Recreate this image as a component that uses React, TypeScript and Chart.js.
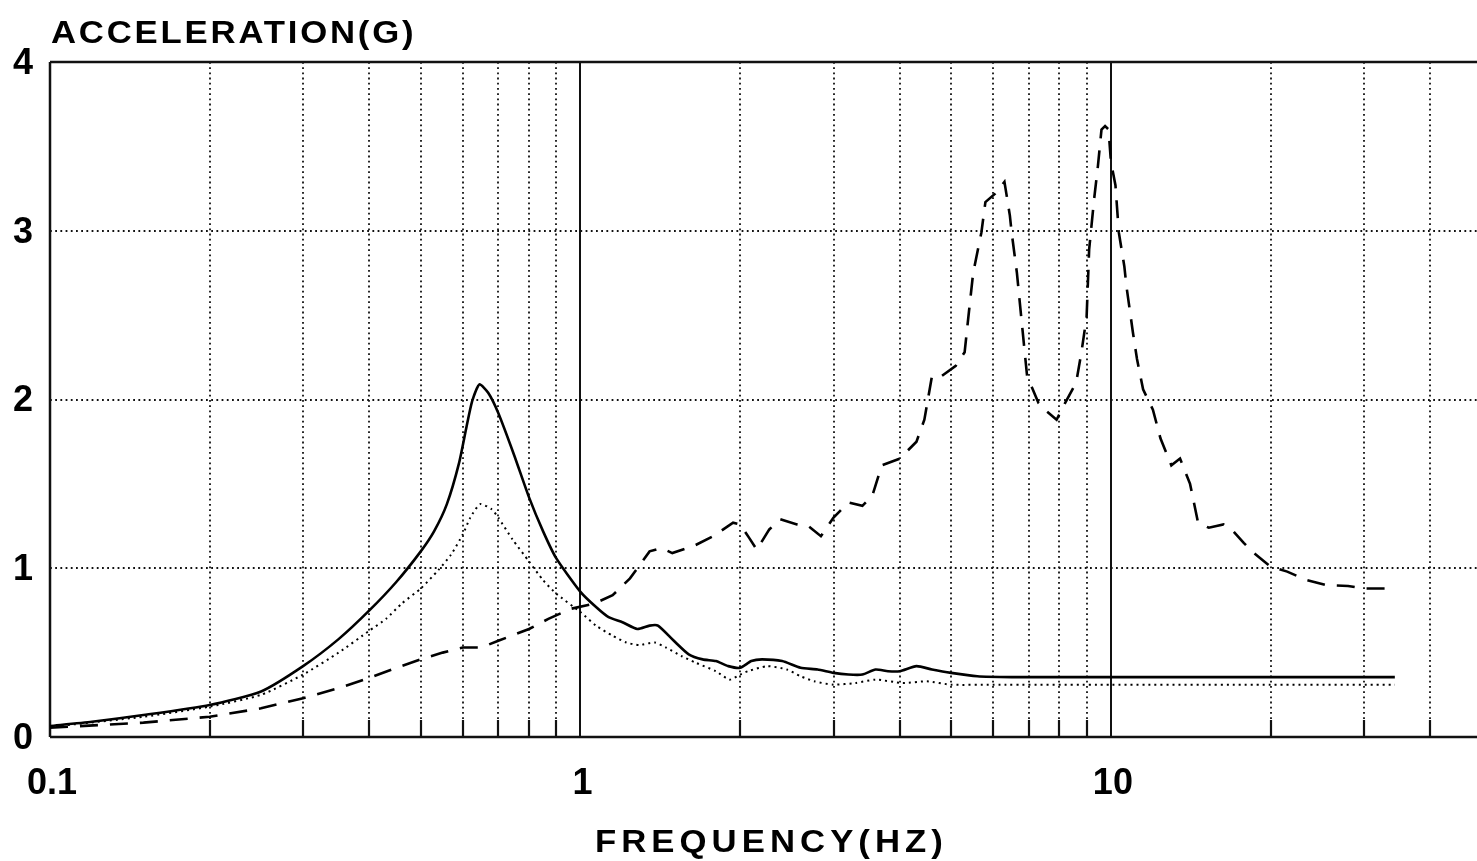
import React, { useEffect, useRef } from "react";
import { Chart, registerables } from "chart.js";

Chart.register(...registerables);

// ---- data ----
const freqSolid = [0.1, 0.12, 0.15, 0.2, 0.25, 0.3, 0.35, 0.4, 0.45, 0.5, 0.53, 0.56, 0.59, 0.61, 0.625, 0.645, 0.67, 0.7, 0.75, 0.8, 0.85, 0.9, 1.0, 1.07, 1.13, 1.2, 1.28, 1.35, 1.4, 1.5, 1.6, 1.7, 1.8, 1.9, 2.0, 2.1, 2.2, 2.4, 2.6, 2.8, 3.0, 3.2, 3.4, 3.6, 3.8, 4.0, 4.3, 4.6, 5.0, 5.6, 6.5, 8, 10, 15, 20, 34.3];
const accSolid = [0.065, 0.09, 0.13, 0.19, 0.27, 0.42, 0.58, 0.75, 0.92, 1.1, 1.22, 1.38, 1.62, 1.84, 1.99, 2.09, 2.04, 1.92, 1.67, 1.42, 1.22, 1.06, 0.86, 0.77, 0.71, 0.68, 0.64, 0.66, 0.66, 0.57, 0.49, 0.46, 0.45, 0.42, 0.41, 0.45, 0.46, 0.45, 0.41, 0.4, 0.38, 0.37, 0.37, 0.4, 0.39, 0.39, 0.42, 0.4, 0.38, 0.36, 0.355, 0.355, 0.355, 0.355, 0.355, 0.355];

const freqDotted = [0.1, 0.15, 0.2, 0.25, 0.3, 0.35, 0.4, 0.43, 0.46, 0.5, 0.54, 0.57, 0.6, 0.62, 0.647, 0.68, 0.7, 0.745, 0.8, 0.85, 0.9, 1.0, 1.07, 1.15, 1.22, 1.29, 1.38, 1.45, 1.55, 1.65, 1.8, 1.91, 2.0, 2.07, 2.25, 2.45, 2.6, 2.76, 3.0, 3.3, 3.6, 4.05, 4.5, 5.0, 6, 10, 20, 34.3];
const accDotted = [0.06, 0.12, 0.18, 0.25, 0.37, 0.5, 0.63, 0.7, 0.79, 0.88, 0.99, 1.08, 1.2, 1.3, 1.38, 1.35, 1.3, 1.17, 1.04, 0.93, 0.85, 0.74, 0.66, 0.6, 0.56, 0.545, 0.56, 0.53, 0.48, 0.44, 0.39, 0.34, 0.37, 0.39, 0.42, 0.4, 0.36, 0.33, 0.31, 0.32, 0.34, 0.32, 0.33, 0.31, 0.31, 0.31, 0.31, 0.31];

const freqDashed = [0.1, 0.15, 0.2, 0.25, 0.3, 0.35, 0.4, 0.45, 0.5, 0.55, 0.6, 0.65, 0.7, 0.8, 0.87, 0.96, 1.06, 1.15, 1.24, 1.35, 1.42, 1.49, 1.63, 1.78, 1.94, 2.0, 2.08, 2.15, 2.27, 2.38, 2.56, 2.69, 2.84, 3.0, 3.2, 3.4, 3.55, 3.7, 4.0, 4.3, 4.45, 4.6, 4.8, 5.1, 5.3, 5.4, 5.5, 5.7, 5.8, 6.05, 6.3, 6.45, 6.5, 6.65, 6.8, 6.95, 7.3, 7.5, 7.9, 8.2, 8.6, 8.8, 9.0, 9.1, 9.3, 9.45, 9.6, 9.75, 9.9, 10.0, 10.2, 10.35, 10.6, 10.7, 11.0, 11.2, 11.5, 12.0, 12.4, 13.0, 13.5, 14.1, 14.6, 15.3, 16.3, 17.0, 17.8, 18.6, 20, 21.5, 23.4, 25.5, 28, 30, 34.3];
const accDashed = [0.055, 0.085, 0.12, 0.17, 0.23, 0.29, 0.35, 0.41, 0.46, 0.5, 0.53, 0.53, 0.57, 0.64, 0.7, 0.76, 0.79, 0.84, 0.94, 1.1, 1.12, 1.09, 1.13, 1.19, 1.27, 1.26, 1.18, 1.11, 1.23, 1.29, 1.26, 1.25, 1.19, 1.3, 1.39, 1.37, 1.43, 1.61, 1.65, 1.75, 1.88, 2.14, 2.14, 2.2, 2.28, 2.52, 2.75, 2.99, 3.17, 3.22, 3.29, 3.09, 2.99, 2.75, 2.44, 2.14, 1.98, 1.94, 1.88, 1.98, 2.1, 2.28, 2.49, 2.89, 3.19, 3.38, 3.6, 3.62, 3.6, 3.41, 3.27, 2.99, 2.79, 2.67, 2.4, 2.24, 2.06, 1.94, 1.77, 1.61, 1.65, 1.5, 1.27, 1.24, 1.26, 1.22, 1.15, 1.09, 1.01, 0.98, 0.93, 0.9, 0.895, 0.88, 0.88];

const yTickValues = [0, 1, 2, 3, 4];
const yTickLabels = ["0", "1", "2", "3", "4"];
const xLabelValues = [0.1, 1, 10];
const xLabelTexts = ["0.1", "1", "10"];
const minorGrid = [0.2, 0.3, 0.4, 0.5, 0.6, 0.7, 0.8, 0.9, 2, 3, 4, 5, 6, 7, 8, 9, 20, 30, 40];
const majorGrid = [1, 10];
const horizGrid = [1, 2, 3];
const yTitle = "ACCELERATION(G)";
const xTitle = "FREQUENCY(HZ)";
const xMin = 0.1;
const xMax = 49;
const yMin = 0;
const yMax = 4;

const toPoints = (xs: number[], ys: number[]) => xs.map((x, i) => ({ x, y: ys[i] }));

const FONT = "'Liberation Sans', Arial, Helvetica, sans-serif";

const framePlugin = {
  id: "frame",
  beforeDatasetsDraw(chart: any) {
    const { ctx, chartArea: a, scales } = chart;
    const x = scales.x;
    const y = scales.y;
    const line = (x1: number, y1: number, x2: number, y2: number) => {
      ctx.beginPath();
      ctx.moveTo(x1, y1);
      ctx.lineTo(x2, y2);
      ctx.stroke();
    };
    ctx.save();
    ctx.strokeStyle = "#111";
    // dotted grid
    ctx.lineWidth = 1.8;
    ctx.setLineDash([1.8, 3.4]);
    for (const v of horizGrid) {
      const py = Math.round(y.getPixelForValue(v));
      line(a.left, py, a.right, py);
    }
    for (const v of minorGrid) {
      const px = Math.round(x.getPixelForValue(v));
      line(px, a.top, px, a.bottom);
    }
    ctx.setLineDash([]);
    // solid decade lines
    ctx.lineWidth = 2;
    for (const v of majorGrid) {
      const px = Math.round(x.getPixelForValue(v));
      line(px, a.top, px, a.bottom);
    }
    // small inward ticks
    ctx.lineWidth = 2.2;
    for (const v of minorGrid) {
      const px = Math.round(x.getPixelForValue(v));
      line(px, a.bottom, px, a.bottom - 17);
    }
    // frame: top, bottom, left
    ctx.lineWidth = 2.5;
    line(a.left, a.top, a.right, a.top);
    line(a.left, a.bottom, a.right, a.bottom);
    line(a.left, a.top, a.left, a.bottom);
    ctx.restore();
  },
  afterDraw(chart: any) {
    const { ctx, scales } = chart;
    const x = scales.x;
    const y = scales.y;
    ctx.save();
    ctx.fillStyle = "#000";
    ctx.font = `bold 36px ${FONT}`;
    ctx.textAlign = "center";
    ctx.textBaseline = "middle";
    yTickValues.forEach((v, i) => {
      ctx.fillText(yTickLabels[i], 23, y.getPixelForValue(v) + 2);
    });
    xLabelValues.forEach((v, i) => {
      ctx.fillText(xLabelTexts[i], x.getPixelForValue(v) + 2, 784);
    });
    ctx.textAlign = "left";
    ctx.textBaseline = "alphabetic";
    // axis titles (slightly wide lettering as in the original plot)
    ctx.save();
    ctx.translate(51, 43);
    ctx.scale(1.12, 1);
    ctx.font = `bold 31px ${FONT}`;
    (ctx as any).letterSpacing = "2.5px";
    ctx.fillText(yTitle, 0, 0);
    ctx.restore();
    ctx.save();
    ctx.translate(595, 852);
    ctx.scale(1.12, 1);
    ctx.font = `bold 31px ${FONT}`;
    (ctx as any).letterSpacing = "4.5px";
    ctx.fillText(xTitle, 0, 0);
    ctx.restore();
    ctx.restore();
  },
};

export default function App() {
  const ref = useRef<HTMLCanvasElement | null>(null);
  useEffect(() => {
    document.body.style.margin = "0";
    const canvas = ref.current;
    if (!canvas) return;
    const chart = new Chart(canvas, {
      type: "line",
      data: {
        datasets: [
          {
            label: "Solid",
            data: toPoints(freqSolid, accSolid),
            borderColor: "#000",
            borderWidth: 2.6,
            pointRadius: 0,
            tension: 0.2,
            fill: false,
          },
          {
            label: "Dotted",
            data: toPoints(freqDotted, accDotted),
            borderColor: "#000",
            borderWidth: 2,
            borderDash: [2, 4],
            pointRadius: 0,
            tension: 0.2,
            fill: false,
          },
          {
            label: "Dashed",
            data: toPoints(freqDashed, accDashed),
            borderColor: "#000",
            borderWidth: 2.6,
            borderDash: [18, 12],
            pointRadius: 0,
            tension: 0,
            fill: false,
          },
        ],
      },
      options: {
        animation: false,
        responsive: false,
        devicePixelRatio: 1,
        layout: { padding: { left: 50, right: 0, top: 62, bottom: 124 } },
        plugins: {
          legend: { display: false },
          tooltip: { enabled: false },
        },
        scales: {
          x: { type: "logarithmic", min: xMin, max: xMax, display: false },
          y: { type: "linear", min: yMin, max: yMax, display: false },
        },
      },
      plugins: [framePlugin],
    });
    return () => chart.destroy();
  }, []);
  return (
    <div style={{ position: "absolute", left: 0, top: 0, width: 1477, height: 861, background: "#fff" }}>
      <canvas ref={ref} width={1477} height={861} />
    </div>
  );
}
